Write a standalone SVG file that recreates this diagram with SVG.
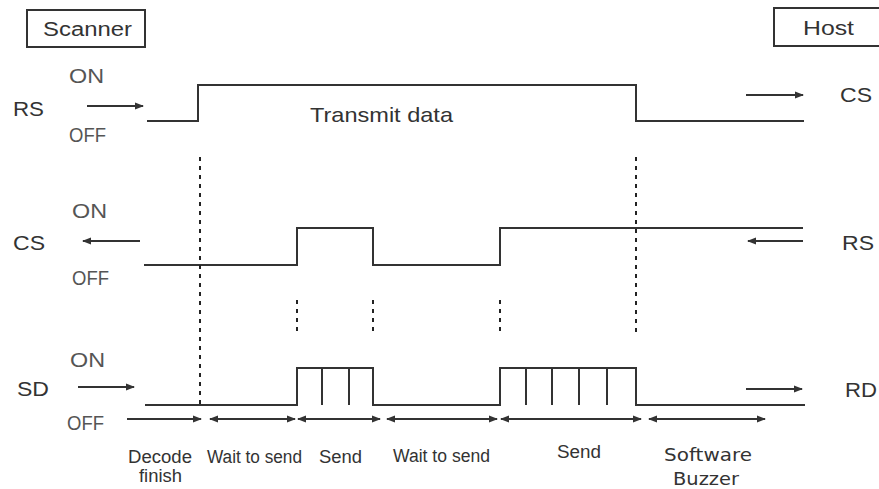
<svg xmlns="http://www.w3.org/2000/svg" width="879" height="489" viewBox="0 0 879 489">
<defs>
<marker id="ah" markerUnits="userSpaceOnUse" markerWidth="9" markerHeight="8" refX="8" refY="4" orient="auto-start-reverse">
<path d="M0,0.5 L9,4 L0,7.5 z" fill="#333"/>
</marker>
<style>
.sig{fill:none;stroke:#333;stroke-width:2}
.arr{fill:none;stroke:#333;stroke-width:2;marker-end:url(#ah)}
.dbl{fill:none;stroke:#333;stroke-width:2;marker-end:url(#ah);marker-start:url(#ah)}
.dash{fill:none;stroke:#222;stroke-width:2;stroke-dasharray:4 5}
.box{fill:#fff;stroke:#333;stroke-width:2}
.lbl{font-family:"Liberation Sans",Arial,sans-serif;font-size:21px;fill:#333}
.st{font-family:"Liberation Sans",Arial,sans-serif;font-size:20px;fill:#555}
.sm{font-family:"Liberation Sans",Arial,sans-serif;font-size:18px;fill:#333}
.dv{font-family:"DejaVu Sans",sans-serif;font-size:18px;fill:#333}
</style>
</defs>
<rect width="879" height="489" fill="#fff"/>
<g id="scanner">
<rect class="box" x="27" y="10" width="118" height="37"/>
<text class="lbl" x="43" y="36" textLength="89" lengthAdjust="spacingAndGlyphs" style="font-size:20px">Scanner</text>
</g>
<g id="host">
<rect class="box" x="774" y="8" width="110" height="38"/>
<text class="lbl" x="803" y="35" textLength="51" lengthAdjust="spacingAndGlyphs" style="font-size:20px">Host</text>
</g>
<g id="labels">
<text class="lbl" x="13" y="116" textLength="31" lengthAdjust="spacingAndGlyphs">RS</text>
<text class="st" x="69" y="83" textLength="35" lengthAdjust="spacingAndGlyphs">ON</text>
<text class="st" x="69" y="142" textLength="37" lengthAdjust="spacingAndGlyphs">OFF</text>
<text class="lbl" x="840" y="102" textLength="32" lengthAdjust="spacingAndGlyphs">CS</text>
<text class="lbl" x="310" y="122" textLength="143" lengthAdjust="spacingAndGlyphs">Transmit data</text>
<text class="lbl" x="13" y="250" textLength="32" lengthAdjust="spacingAndGlyphs">CS</text>
<text class="st" x="72" y="218" textLength="35" lengthAdjust="spacingAndGlyphs">ON</text>
<text class="st" x="72" y="285" textLength="37" lengthAdjust="spacingAndGlyphs">OFF</text>
<text class="lbl" x="842" y="250" textLength="32" lengthAdjust="spacingAndGlyphs">RS</text>
<text class="lbl" x="17" y="396" textLength="32" lengthAdjust="spacingAndGlyphs">SD</text>
<text class="st" x="70" y="367" textLength="35" lengthAdjust="spacingAndGlyphs">ON</text>
<text class="st" x="67" y="430" textLength="37" lengthAdjust="spacingAndGlyphs">OFF</text>
<text class="lbl" x="845" y="397" textLength="32" lengthAdjust="spacingAndGlyphs">RD</text>
<text class="sm" x="128" y="463" textLength="64" lengthAdjust="spacingAndGlyphs">Decode</text>
<text class="sm" x="139" y="482" textLength="43" lengthAdjust="spacingAndGlyphs">finish</text>
<text class="sm" x="207" y="463" textLength="95" lengthAdjust="spacingAndGlyphs">Wait to send</text>
<text class="sm" x="319" y="463" textLength="43" lengthAdjust="spacingAndGlyphs">Send</text>
<text class="sm" x="393" y="462" textLength="97" lengthAdjust="spacingAndGlyphs">Wait to send</text>
<text class="sm" x="557" y="458" textLength="44" lengthAdjust="spacingAndGlyphs">Send</text>
<text class="dv" x="664" y="461" textLength="88" lengthAdjust="spacingAndGlyphs">Software</text>
<text class="dv" x="673" y="485" textLength="66" lengthAdjust="spacingAndGlyphs">Buzzer</text>
</g>
<g id="connectors">
<polyline class="sig" points="147,121 198,121 198,85 636,85 636,121 804,121"/>
<line class="arr" x1="87" y1="106" x2="143" y2="106"/>
<line class="arr" x1="746" y1="95" x2="803" y2="95"/>
<polyline class="sig" points="144,265 297,265 297,228 373,228 373,265 500,265 500,228 803,228"/>
<line class="arr" x1="140" y1="241" x2="83" y2="241"/>
<line class="arr" x1="803" y1="241" x2="748" y2="241"/>
<polyline class="sig" points="145,405 297,405 297,368 373,368 373,405 500,405 500,368 636,368 636,405 805,405"/>
<line class="sig" x1="322" y1="368" x2="322" y2="405"/>
<line class="sig" x1="349" y1="368" x2="349" y2="405"/>
<line class="sig" x1="526" y1="368" x2="526" y2="405"/>
<line class="sig" x1="552" y1="368" x2="552" y2="405"/>
<line class="sig" x1="579" y1="368" x2="579" y2="405"/>
<line class="sig" x1="607" y1="368" x2="607" y2="405"/>
<line class="arr" x1="78" y1="387" x2="134" y2="387"/>
<line class="arr" x1="746" y1="389" x2="802" y2="389"/>
<line class="dash" x1="200" y1="157" x2="200" y2="405"/>
<line class="dash" x1="636" y1="157" x2="636" y2="333"/>
<line class="dash" x1="297" y1="300" x2="297" y2="333"/>
<line class="dash" x1="373" y1="300" x2="373" y2="333"/>
<line class="dash" x1="500" y1="300" x2="500" y2="333"/>
<line class="arr" x1="127" y1="419" x2="201" y2="419"/>
<line class="dbl" x1="210" y1="419" x2="295" y2="419"/>
<line class="dbl" x1="298" y1="419" x2="380" y2="419"/>
<line class="dbl" x1="387" y1="419" x2="497" y2="419"/>
<line class="dbl" x1="501" y1="419" x2="641" y2="419"/>
<line class="dbl" x1="649" y1="419" x2="765" y2="419"/>
</g>
</svg>
